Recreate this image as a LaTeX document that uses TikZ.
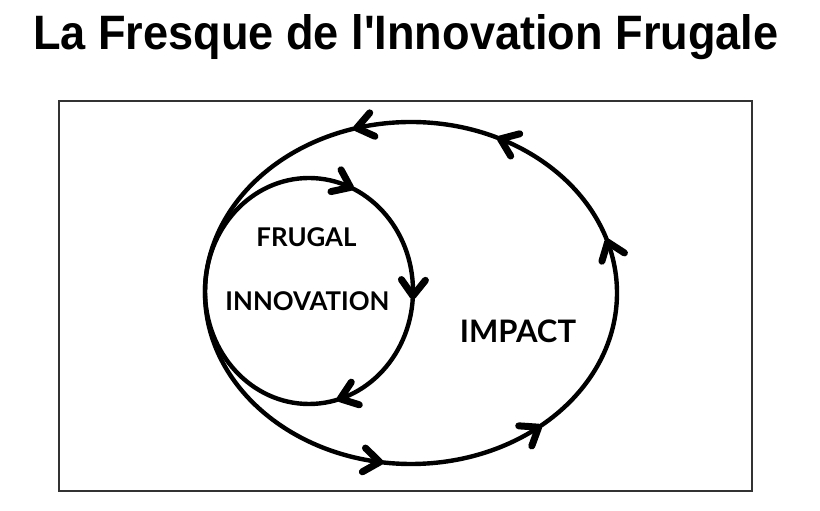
\documentclass[tikz,border=0pt]{standalone}
\usepackage{fontspec}
\setmainfont{Liberation Sans}
\newfontfamily\labelfont{Lato}
\begin{document}
\begin{tikzpicture}[x=1pt,y=1pt,
  loopline/.style={line width=4.4pt, line cap=round},
  chev/.style={line width=7pt, line cap=round, line join=round},
  lbl/.style={font=\labelfont\bfseries\fontsize{25.8}{30}\selectfont, inner sep=0pt},
  biglbl/.style={font=\labelfont\bfseries\fontsize{31}{36}\selectfont, inner sep=0pt}]
\useasboundingbox (0,0) rectangle (820,511);
\fill[white] (0,0) rectangle (820,511);
\node[anchor=base west, inner sep=0pt] (title) at (33,461)
  {\resizebox{745pt}{35pt}{\bfseries La Fresque de l\textquotesingle Innovation Frugale}};
\draw[line width=1.6pt, draw=black!80] (59,410) rectangle (752,20);
% big loop (counterclockwise)
\draw[loopline] (411,218) ellipse [x radius=206, y radius=171];
% small loop (clockwise)
\draw[loopline] (309,220) ellipse [x radius=104, y radius=113];
\foreach \t in {17,64,105,261,308}{
  \pgfmathsetmacro\ang{atan2(171*cos(\t), -206*sin(\t))}
  \draw[chev, shift={({411+206*cos(\t)},{218+171*sin(\t)})}, rotate=\ang]
    (-15,12) -- (1,0) -- (-15,-12);
}
\foreach \t in {67,-2,-72}{
  \pgfmathsetmacro\ang{atan2(-113*cos(\t), 104*sin(\t))}
  \draw[chev, shift={({309+104*cos(\t)},{220+113*sin(\t)})}, rotate=\ang]
    (-15,12) -- (1,0) -- (-15,-12);
}
\node[lbl] (frugal) at (306.5,273.5) {FRUGAL};
\node[lbl] (innov) at (307.5,210) {INNOVATION};
\node[biglbl] (impact) at (518,179.5) {IMPACT};
\end{tikzpicture}
\end{document}
